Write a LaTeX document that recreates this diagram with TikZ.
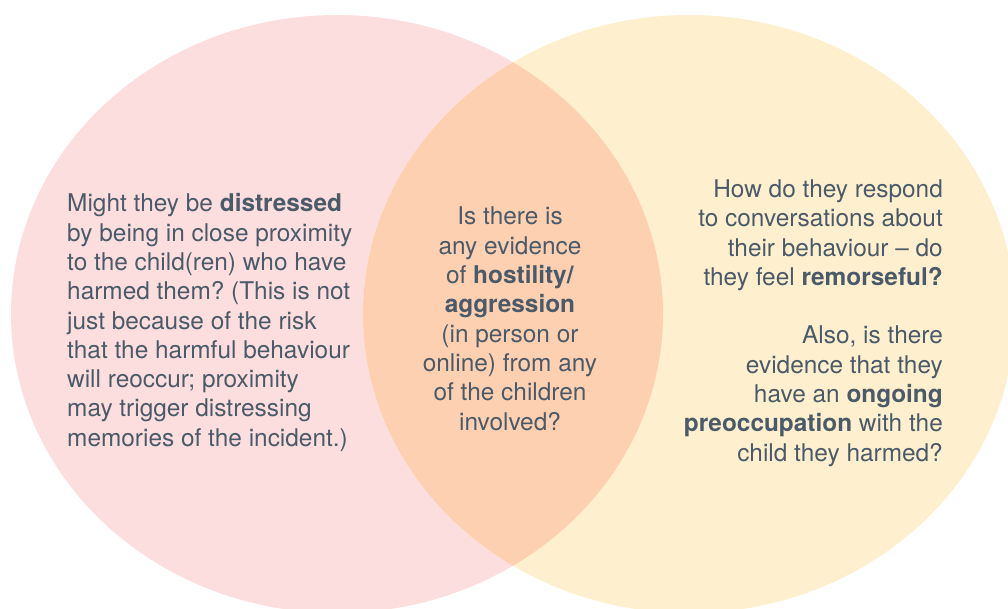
\documentclass[tikz,border=0pt]{standalone}
\usepackage{fontspec}
\setmainfont{TeX Gyre Heros}
\usepackage{xcolor}
\usepackage{tikz}
\usetikzlibrary{positioning}
\definecolor{circlepink}{RGB}{252, 222, 222}
\definecolor{circleyellow}{RGB}{254, 240, 207}
\definecolor{circleoverlap}{RGB}{253, 208, 177}
\definecolor{textslate}{RGB}{74, 90, 104}
\frenchspacing

\begin{document}
\begin{tikzpicture}[x=1pt, y=-1pt,
        every node/.style={inner sep=0pt, text=textslate, font=\fontsize{24.4}{29.3}\selectfont},
        venn/.style={x radius=326, y radius=299}]
        \useasboundingbox (0,0) rectangle (1008,608);
        \clip (0,0) rectangle (1008,608);
        % the two circles and their overlap
        \fill[circlepink] (337,314) ellipse [venn];
        \fill[circleyellow] (689,314) ellipse [venn];
        \begin{scope}
            \clip (337,314) ellipse [venn];
            \fill[circleoverlap] (689,314) ellipse [venn];
        \end{scope}
        % texts
        \node[anchor=north west, align=left] (victim) at (67,193.5) {
            Might they be \textbf{distressed}\\
            by being in close proximity\\
            to the child(ren) who have\\
            harmed them? (This is not\\
            just because of the risk\\
            that the harmful behaviour\\
            will reoccur; proximity\\
            may trigger distressing\\
            memories of the incident.)
        };
        \node[anchor=north, align=center] (both) at (510,207) {
            Is there is\\
            any evidence\\
            of \textbf{hostility/}\\
            \textbf{aggression}\\
            (in person or\\
            online) from any\\
            of the children\\
            involved?
        };
        \node[anchor=north east, align=right] (harmer) at (943,179.5) {
            How do they respond\\
            to conversations about\\
            their behaviour -- do\\
            they feel \textbf{remorseful?}\\[29.3pt]
            Also, is there\\
            evidence that they\\
            have an \textbf{ongoing}\\
            \textbf{preoccupation} with the\\
            child they harmed?
        };
    \end{tikzpicture}
\end{document}
